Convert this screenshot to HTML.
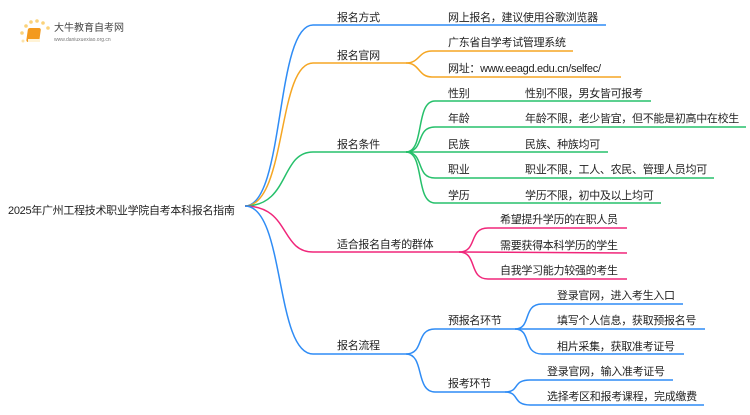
<!DOCTYPE html>
<html><head><meta charset="utf-8"><style>
body{margin:0;background:#fff;}
svg text{font-family:"Liberation Sans","Noto Sans CJK SC",sans-serif;font-size:11px;letter-spacing:-0.3px;fill:#222;}
</style></head><body>
<svg width="750" height="410" viewBox="0 0 750 410" xmlns="http://www.w3.org/2000/svg">
<g fill="none" stroke-width="1.5">
<path d="M245,206 C285,206 275,25 313,25 L606,25" stroke="#2f8cf5"/>
<path d="M245,206 C287,206 277,63 313,63 L406,63" stroke="#f5a623"/>
<path d="M245,206 C290,206 280,152 313,152 L406,152" stroke="#26c06b"/>
<path d="M245,206 C290,206 280,252 313,252 L459,252" stroke="#f0267a"/>
<path d="M245,206 C285,206 275,354 313,354 L406,354" stroke="#2f8cf5"/>
<path d="M406,63 C420,63 418,51 432,51 L573,51" stroke="#f5a623"/>
<path d="M406,63 C420,63 418,77 432,77 L621,77" stroke="#f5a623"/>
<path d="M406,152 C425,152 415,101 435,101 L651,101" stroke="#26c06b"/>
<path d="M406,152 C425,152 415,127 435,127 L746,127" stroke="#26c06b"/>
<path d="M406,152 L608,152" stroke="#26c06b"/>
<path d="M406,152 C425,152 415,178 435,178 L714,178" stroke="#26c06b"/>
<path d="M406,152 C425,152 415,203 435,203 L661,203" stroke="#26c06b"/>
<path d="M459,252 C478,252 468,228 488,228 L627,228" stroke="#f0267a"/>
<path d="M459,252 L627,253" stroke="#f0267a"/>
<path d="M459,252 C478,252 468,279 488,279 L627,279" stroke="#f0267a"/>
<path d="M406,354 C425,354 415,329 435,329 L515,329" stroke="#2f8cf5"/>
<path d="M406,354 C425,354 415,392 435,392 L505,392" stroke="#2f8cf5"/>
<path d="M515,329 C532,329 522,304 542,304 L683,304" stroke="#2f8cf5"/>
<path d="M515,329 L705,329" stroke="#2f8cf5"/>
<path d="M515,329 C532,329 522,354 542,354 L684,354" stroke="#2f8cf5"/>
<path d="M505,392 C520,392 512,380 530,380 L673,380" stroke="#2f8cf5"/>
<path d="M505,392 C520,392 512,405 530,405 L704,405" stroke="#2f8cf5"/>
</g>
<g>
<circle cx="26" cy="26" r="1.8" fill="#fbd27a"/><circle cx="31" cy="22" r="1.8" fill="#fbd27a"/><circle cx="37" cy="21" r="1.8" fill="#fbd27a"/><circle cx="43" cy="23" r="1.8" fill="#fbd27a"/><circle cx="48" cy="28" r="1.8" fill="#fbd27a"/><circle cx="22" cy="33" r="1.8" fill="#fbd27a"/><circle cx="23" cy="41" r="1.5" fill="#fde3a7"/>
<rect x="32" y="28" width="13" height="14" rx="2" fill="#f39a1e" transform="skewX(-8)"/>
<rect x="28" y="39" width="12" height="3" fill="#fff3d6"/>
<text x="54" y="31" style="font-size:10px;fill:#444;letter-spacing:0">大牛教育自考网</text>
<text x="54" y="41" style="font-size:5px;fill:#777;letter-spacing:0">www.daniuxuexiao.org.cn</text>
</g>
<text x="8" y="214">2025年广州工程技术职业学院自考本科报名指南</text>
<text x="337" y="21">报名方式</text>
<text x="448" y="21">网上报名，建议使用谷歌浏览器</text>
<text x="337" y="59">报名官网</text>
<text x="448" y="46">广东省自学考试管理系统</text>
<text x="448" y="72">网址：www.eeagd.edu.cn/selfec/</text>
<text x="337" y="148">报名条件</text>
<text x="448" y="97">性别</text><text x="525" y="97">性别不限，男女皆可报考</text>
<text x="448" y="122">年龄</text><text x="525" y="122">年龄不限，老少皆宜，但不能是初高中在校生</text>
<text x="448" y="148">民族</text><text x="525" y="148">民族、种族均可</text>
<text x="448" y="173">职业</text><text x="525" y="173">职业不限，工人、农民、管理人员均可</text>
<text x="448" y="199">学历</text><text x="525" y="199">学历不限，初中及以上均可</text>
<text x="337" y="248">适合报名自考的群体</text>
<text x="500" y="223">希望提升学历的在职人员</text>
<text x="500" y="249">需要获得本科学历的学生</text>
<text x="500" y="274">自我学习能力较强的考生</text>
<text x="337" y="349">报名流程</text>
<text x="448" y="324">预报名环节</text>
<text x="448" y="387">报考环节</text>
<text x="557" y="299">登录官网，进入考生入口</text>
<text x="557" y="324">填写个人信息，获取预报名号</text>
<text x="557" y="350">相片采集，获取准考证号</text>
<text x="547" y="375">登录官网，输入准考证号</text>
<text x="547" y="400">选择考区和报考课程，完成缴费</text>
</svg>
</body></html>
